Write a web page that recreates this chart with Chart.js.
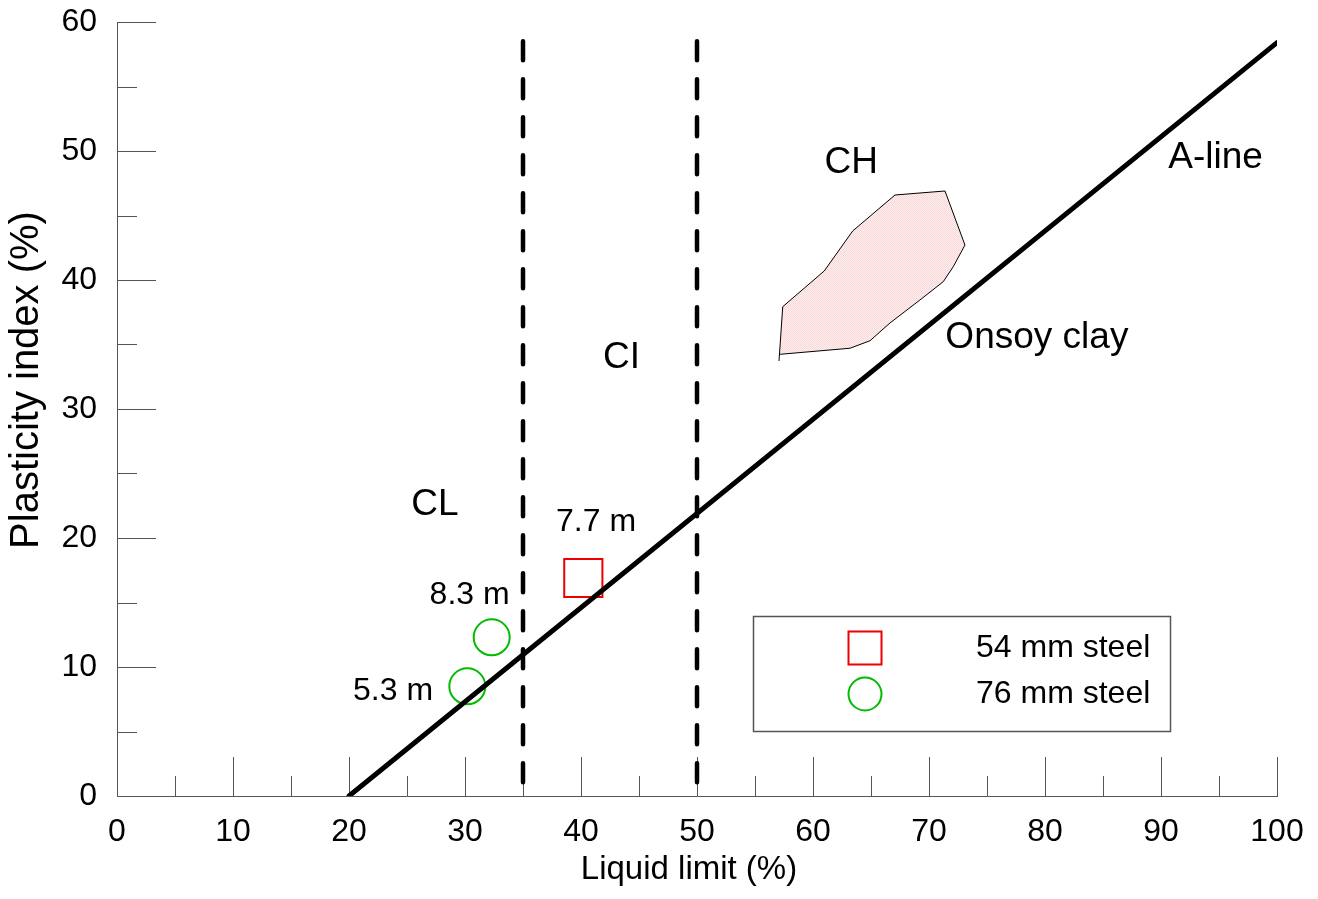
<!DOCTYPE html>
<html>
<head>
<meta charset="utf-8">
<title>Plasticity chart</title>
<script src="https://cdn.jsdelivr.net/npm/chart.js@4.4.1/dist/chart.umd.min.js"></script>
<style>
  body { margin: 0; background: #fff; }
  #wrap { width: 1318px; height: 899px; }
</style>
</head>
<body>
<div id="wrap"><canvas id="plasticity" width="1318" height="899"></canvas></div>
<script>
const fontFamily = "'Liberation Sans', Arial, Helvetica, sans-serif";
const tickSize = 32;
const axisColor = "#555";

// Casagrande A-line, PI = 0.73 (LL - 20)
const aLineLL = [20, 100];
const aLinePI = [0, 58.4];

// CL / CI / CH boundaries
const boundaryLL = [35, 50];
const boundaryTop = 58.5;

// Onsoy clay envelope
const onsoyLL = [57.07, 57.39, 60.97, 63.42, 67.07, 71.38, 73.10, 72.09, 71.23, 69.22, 66.64, 64.91, 63.19, 57.16];
const onsoyPI = [33.72, 37.93, 40.70, 43.80, 46.59, 46.90, 42.71, 41.03, 39.87, 38.45, 36.67, 35.29, 34.71, 34.24];

// samples
const steel54LL = [40.2];
const steel54PI = [16.9];
const steel76LL = [32.3, 30.2];
const steel76PI = [12.3, 8.5];

// text placed on the chart, in axis units
const notes = [
  { text: "CL", x: 27.4, y: 22.6, size: 37 },
  { text: "CI", x: 43.5, y: 34.0, size: 37 },
  { text: "CH", x: 63.3, y: 49.1, size: 37 },
  { text: "A-line", x: 94.7, y: 49.5, size: 37 },
  { text: "Onsoy clay", x: 79.3, y: 35.5, size: 37 },
  { text: "7.7 m", x: 41.3, y: 21.2, size: 32 },
  { text: "8.3 m", x: 30.4, y: 15.6, size: 32 },
  { text: "5.3 m", x: 23.8, y: 8.1, size: 32 },
];

const xTitle = "Liquid limit (%)";
const yTitle = "Plasticity index (%)";

const legendItems = [
  { label: "54 mm steel", style: "rect", color: "#ee0000" },
  { label: "76 mm steel", style: "circle", color: "#00bb00" },
];

const toPoints = (xs, ys) => xs.map((v, i) => ({ x: v, y: ys[i] }));

// fine pink dot texture for the clay envelope
const dotPattern = (() => {
  const c = document.createElement("canvas");
  c.width = 2;
  c.height = 2;
  const g = c.getContext("2d");
  g.fillStyle = "#fdf0f0";
  g.fillRect(0, 0, 2, 2);
  g.fillStyle = "#fad6d6";
  g.fillRect(0, 0, 1, 1);
  g.fillRect(1, 1, 1, 1);
  return g.createPattern(c, "repeat");
})();

// tick marks point into the plot, long every 10, short every 5
const inwardTicks = {
  id: "inwardTicks",
  beforeDatasetsDraw(chart) {
    const { ctx, chartArea, scales: { x, y } } = chart;
    ctx.save();
    ctx.strokeStyle = axisColor;
    ctx.lineWidth = 1;
    ctx.beginPath();
    for (let v = 0; v <= 100; v += 5) {
      const px = Math.round(x.getPixelForValue(v)) + 0.5;
      const len = v % 10 === 0 ? 39 : 20;
      ctx.moveTo(px, chartArea.bottom);
      ctx.lineTo(px, chartArea.bottom - len);
    }
    for (let v = 0; v <= 60; v += 5) {
      const py = Math.round(y.getPixelForValue(v)) + 0.5;
      const len = v % 10 === 0 ? 39 : 20;
      ctx.moveTo(chartArea.left, py);
      ctx.lineTo(chartArea.left + len, py);
    }
    ctx.stroke();
    ctx.restore();
  },
};

const notesAndLegend = {
  id: "notesAndLegend",
  afterDraw(chart) {
    const { ctx, chartArea, scales: { x, y } } = chart;
    ctx.save();
    ctx.fillStyle = "#000";
    ctx.textAlign = "center";
    ctx.textBaseline = "middle";
    notes.forEach((n) => {
      ctx.font = n.size + "px " + fontFamily;
      ctx.fillText(n.text, x.getPixelForValue(n.x), y.getPixelForValue(n.y));
    });

    // axis titles
    ctx.font = "33px " + fontFamily;
    ctx.fillText(xTitle, chartArea.left + 572, chartArea.bottom + 74);
    ctx.save();
    ctx.translate(27, chartArea.top + 358);
    ctx.rotate(-Math.PI / 2);
    ctx.font = "40px " + fontFamily;
    ctx.fillText(yTitle, 0, 0);
    ctx.restore();

    // legend box
    const left = chartArea.left + 636;
    const top = chartArea.top + 594;
    ctx.strokeStyle = axisColor;
    ctx.lineWidth = 1.5;
    ctx.strokeRect(left + 0.5, top + 0.5, 417, 115);
    ctx.textAlign = "left";
    ctx.font = "32px " + fontFamily;
    legendItems.forEach((item, i) => {
      const cy = top + 32 + i * 46;
      const cx = left + 112;
      ctx.strokeStyle = item.color;
      ctx.lineWidth = 2;
      ctx.beginPath();
      if (item.style === "rect") {
        ctx.rect(cx - 16.5, cy - 16.5, 33, 33);
      } else {
        ctx.arc(cx, cy, 16.5, 0, Math.PI * 2);
      }
      ctx.stroke();
      ctx.fillStyle = "#000";
      ctx.fillText(item.label, left + 223, cy);
    });
    ctx.restore();
  },
};

const lineBase = {
  showLine: true,
  pointRadius: 0,
  borderColor: "#000",
  fill: false,
};

const config = {
  type: "scatter",
  data: {
    datasets: [
      {
        ...lineBase,
        label: "A-line",
        data: toPoints(aLineLL, aLinePI),
        borderWidth: 5,
        borderCapStyle: "round",
      },
      {
        label: "54 mm steel",
        data: toPoints(steel54LL, steel54PI),
        pointStyle: "rect",
        pointRadius: 27,
        borderColor: "#ee0000",
        backgroundColor: "rgba(0,0,0,0)",
        borderWidth: 2,
      },
      {
        label: "76 mm steel",
        data: toPoints(steel76LL, steel76PI),
        pointStyle: "circle",
        pointRadius: 18,
        borderColor: "#00bb00",
        backgroundColor: "rgba(0,0,0,0)",
        borderWidth: 2,
      },
      ...boundaryLL.map((v) => ({
        ...lineBase,
        label: "LL " + v,
        data: [{ x: v, y: boundaryTop }, { x: v, y: 0 }],
        borderWidth: 4.5,
        borderDash: [19, 19],
        borderCapStyle: "round",
      })),
      {
        ...lineBase,
        label: "Onsoy clay",
        data: toPoints(onsoyLL, onsoyPI),
        borderWidth: 1,
        backgroundColor: dotPattern,
        fill: "shape",
      },
    ],
  },
  options: {
    responsive: false,
    animation: false,
    layout: {
      autoPadding: false,
      padding: { top: 22, right: 41, bottom: 0, left: 0 },
    },
    plugins: {
      legend: { display: false },
      tooltip: { enabled: false },
    },
    scales: {
      x: {
        type: "linear",
        position: "bottom",
        min: 0,
        max: 100,
        grid: { display: false, drawTicks: false },
        border: { display: true, color: axisColor, width: 1 },
        ticks: {
          stepSize: 10,
          color: "#000",
          padding: 17,
          maxRotation: 0,
          font: { family: fontFamily, size: tickSize },
        },
        afterFit: (scale) => {
          scale.height = 103;
          scale.paddingLeft = 0;
          scale.paddingRight = 0;
        },
      },
      y: {
        type: "linear",
        position: "left",
        min: 0,
        max: 60,
        grid: { display: false, drawTicks: false },
        border: { display: true, color: axisColor, width: 1 },
        ticks: {
          stepSize: 10,
          color: "#000",
          padding: 20,
          font: { family: fontFamily, size: tickSize },
        },
        afterFit: (scale) => {
          scale.width = 117;
          scale.paddingTop = 0;
          scale.paddingBottom = 0;
        },
      },
    },
  },
  plugins: [inwardTicks, notesAndLegend],
};

new Chart(document.getElementById("plasticity"), config);
</script>
</body>
</html>
